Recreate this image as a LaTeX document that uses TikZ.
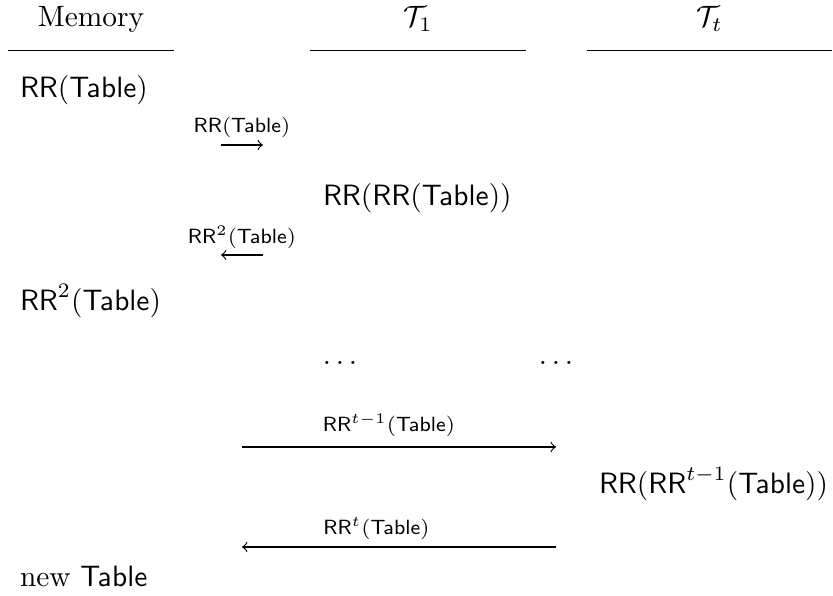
\documentclass[tikz,border=0pt]{standalone}
\usepackage{amsmath}
\begin{document}
\begin{tikzpicture}[x=0.3401pt,y=-0.3401pt,
  txt/.style={inner sep=0pt,outer sep=0pt,anchor=base west},
  hdr/.style={inner sep=0pt,outer sep=0pt,anchor=base},
  lbl/.style={inner sep=0pt,outer sep=0pt,anchor=base,font=\scriptsize},
  rule/.style={line width=0.4pt},
  flow/.style={line width=0.4pt,->}]
\useasboundingbox (0,0) rectangle (833,596);
% headers
\node[hdr] (mem) at (91,27) {Memory};
\node[hdr] (t1) at (418,27) {$\mathcal{T}_1$};
\node[hdr] (tt) at (709.5,27) {$\mathcal{T}_t$};
\coordinate (m0) at (8,50.7);   \coordinate (m1) at (174,50.7);
\coordinate (p0) at (310,50.7); \coordinate (p1) at (526,50.7);
\coordinate (q0) at (587,50.7); \coordinate (q1) at (832,50.7);
\draw[rule] (m0) -- (m1);
\draw[rule] (p0) -- (p1);
\draw[rule] (q0) -- (q1);
% rows
\node[txt] (r1) at (20,98) {$\mathsf{RR}(\mathsf{Table})$};
\node[lbl] (l1) at (242,133) {$\mathsf{RR}(\mathsf{Table})$};
\coordinate (a1s) at (221,145); \coordinate (a1e) at (263,145);
\draw[flow] (a1s) -- (a1e);
\node[txt] (r2) at (323,206) {$\mathsf{RR}(\mathsf{RR}(\mathsf{Table}))$};
\node[lbl] (l2) at (242,244) {$\mathsf{RR}^2(\mathsf{Table})$};
\coordinate (a2s) at (263,255); \coordinate (a2e) at (221,255);
\draw[flow] (a2s) -- (a2e);
\node[txt] (r3) at (20,311) {$\mathsf{RR}^2(\mathsf{Table})$};
\node[hdr] (d1) at (340,365) {$\ldots$};
\node[hdr] (d2) at (556,365) {$\ldots$};
\node[lbl] (l3) at (389,432) {$\mathsf{RR}^{t-1}(\mathsf{Table})$};
\coordinate (a3s) at (241.5,447); \coordinate (a3e) at (556,447);
\draw[flow] (a3s) -- (a3e);
\node[txt] (r4) at (599,494) {$\mathsf{RR}(\mathsf{RR}^{t-1}(\mathsf{Table}))$};
\node[lbl] (l4) at (376.5,535) {$\mathsf{RR}^{t}(\mathsf{Table})$};
\coordinate (a4s) at (556,547); \coordinate (a4e) at (242,547);
\draw[flow] (a4s) -- (a4e);
\node[txt] (r5) at (20,587) {new $\mathsf{Table}$};
\end{tikzpicture}
\end{document}
